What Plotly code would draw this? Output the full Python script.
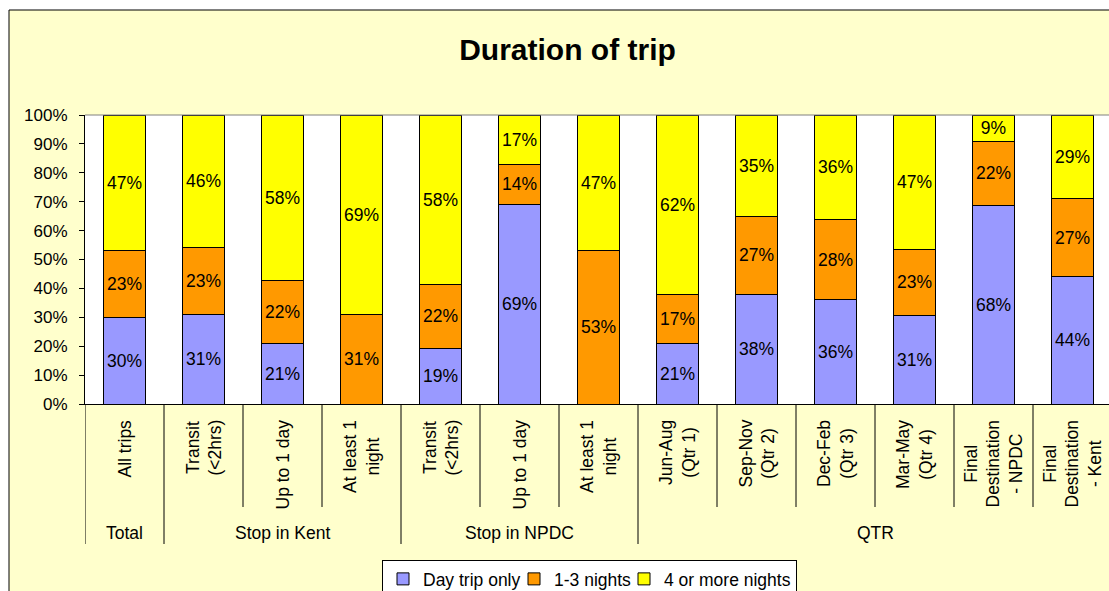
import plotly.graph_objects as go

# Trip duration shares by segment (percent of trips)
categories = [
    "All trips", "Transit\n(<2hrs)", "Up to 1 day", "At least 1\nnight",
    "Transit\n(<2hrs)", "Up to 1 day", "At least 1\nnight",
    "Jun-Aug\n(Qtr 1)", "Sep-Nov\n(Qtr 2)", "Dec-Feb\n(Qtr 3)", "Mar-May\n(Qtr 4)",
    "Final\nDestination\n- NPDC", "Final\nDestination\n- Kent",
]
groups = ["Total", "Stop in Kent", "Stop in NPDC", "QTR"]
group_sizes = [1, 3, 3, 6]

day_trip = [30, 31, 21, 0, 19, 69, 0, 21, 38, 36, 31, 68, 44]
nights_1_3 = [23, 23, 22, 31, 22, 14, 53, 17, 27, 28, 23, 22, 27]
nights_4_plus = [47, 46, 58, 69, 58, 17, 47, 62, 35, 36, 47, 9, 29]

# name, values, colour, legend entry width (None = fit text)
series = [
    ("Day trip only", day_trip, "#9999FF", 86),
    ("1-3 nights", nights_1_3, "#FF9900", 65),
    ("4 or more nights", nights_4_plus, "#FFFF00", None),
]

W, H = 1109, 591
FONT = "Liberation Sans, Arial, sans-serif"
LABEL_SIZE = 17.5


def fx(px):
    return px / W


def fy(py):
    return 1 - py / H


x_idx = list(range(len(categories)))

fig = go.Figure()
for name, vals, color, lw in series:
    fig.add_trace(go.Bar(
        name=name,
        x=x_idx,
        y=vals,
        marker=dict(color=color, line=dict(color="black", width=1)),
        text=[f"{v}%" if v else "" for v in vals],
        textposition="inside",
        insidetextanchor="middle",
        textangle=0,
        textfont=dict(family=FONT, size=LABEL_SIZE, color="black"),
        legendwidth=lw,
        hoverinfo="skip",
    ))

shapes = []
# white strip left of and above the chart frame
shapes.append(dict(type="rect", xref="paper", yref="paper", x0=0, x1=fx(9), y0=-0.1, y1=1.1,
                   fillcolor="white", line=dict(width=0), layer="below"))
shapes.append(dict(type="rect", xref="paper", yref="paper", x0=0, x1=1.1, y0=fy(10), y1=1.1,
                   fillcolor="white", line=dict(width=0), layer="below"))
shapes.append(dict(type="line", xref="paper", yref="paper", x0=fx(9), x1=fx(9), y0=-0.1, y1=fy(10),
                   line=dict(color="black", width=1)))
shapes.append(dict(type="line", xref="paper", yref="paper", x0=fx(9), x1=1.1, y0=fy(10), y1=fy(10),
                   line=dict(color="black", width=1)))
# plot area top border
shapes.append(dict(type="line", xref="paper", yref="paper", x0=fx(85), x1=1.1, y0=fy(115), y1=fy(115),
                   line=dict(color="#808080", width=1)))

# category dividers under the axis: long ones between groups, short ones inside
group_edges = set()
acc = 0
for s in group_sizes:
    group_edges.add(acc)
    acc += s
group_edges.add(acc)
for b in range(len(categories) + 1):
    bottom = 544 if b in group_edges else 507
    shapes.append(dict(type="line", xref="x", yref="paper", x0=b - 0.5, x1=b - 0.5,
                       y0=fy(404), y1=fy(bottom), line=dict(color="black", width=1)))

annotations = []
for i, cat in enumerate(categories):
    txt = cat.replace("<", "&lt;").replace("\n", "<br>")
    annotations.append(dict(x=i, y=fy(418), xref="x", yref="paper", text=txt, showarrow=False,
                            textangle=-90, xanchor="center", yanchor="top", align="center",
                            font=dict(family=FONT, size=LABEL_SIZE, color="black")))
start = 0
for g, s in zip(groups, group_sizes):
    annotations.append(dict(x=start + (s - 1) / 2, y=fy(533), xref="x", yref="paper", text=g,
                            showarrow=False, xanchor="center", yanchor="middle",
                            font=dict(family=FONT, size=LABEL_SIZE, color="black")))
    start += s

fig.update_layout(
    width=W, height=H,
    autosize=False,
    margin=dict(l=0, r=0, t=0, b=0, pad=0, autoexpand=False),
    paper_bgcolor="#FFFFCC",
    plot_bgcolor="white",
    barmode="stack",
    barnorm="percent",
    bargap=0.475,
    uniformtext=dict(minsize=LABEL_SIZE, mode="show"),
    title=dict(text="Duration of trip", x=fx(567.5), xanchor="center", xref="paper",
               y=fy(49), yanchor="middle", yref="paper", automargin=False,
               font=dict(family=FONT, size=30, color="black", weight="bold")),
    xaxis=dict(domain=[fx(85), 1], range=[-0.5, (1109 - 85) / 79 - 0.5], automargin=False,
               showticklabels=False, ticks="", showgrid=False, zeroline=False,
               showline=True, linecolor="black", linewidth=1, fixedrange=True),
    yaxis=dict(domain=[fy(404), fy(115)], range=[0, 100], automargin=False,
               tickvals=list(range(0, 101, 10)),
               ticktext=[f"{v}%" for v in range(0, 101, 10)],
               ticks="outside", ticklen=5, tickcolor="black", ticklabelstandoff=8,
               tickfont=dict(family=FONT, size=17, color="black"),
               showgrid=False, zeroline=False,
               showline=True, linecolor="black", linewidth=1, fixedrange=True),
    legend=dict(orientation="h", x=fx(382), xanchor="left", y=fy(560), yanchor="top",
                xref="paper", yref="paper",
                bgcolor="white", bordercolor="black", borderwidth=1,
                font=dict(family=FONT, size=LABEL_SIZE, color="black"),
                traceorder="normal", itemclick=False, itemdoubleclick=False),
    shapes=shapes,
    annotations=annotations,
    showlegend=True,
)

fig.write_html("out.html", config={"displayModeBar": False})
